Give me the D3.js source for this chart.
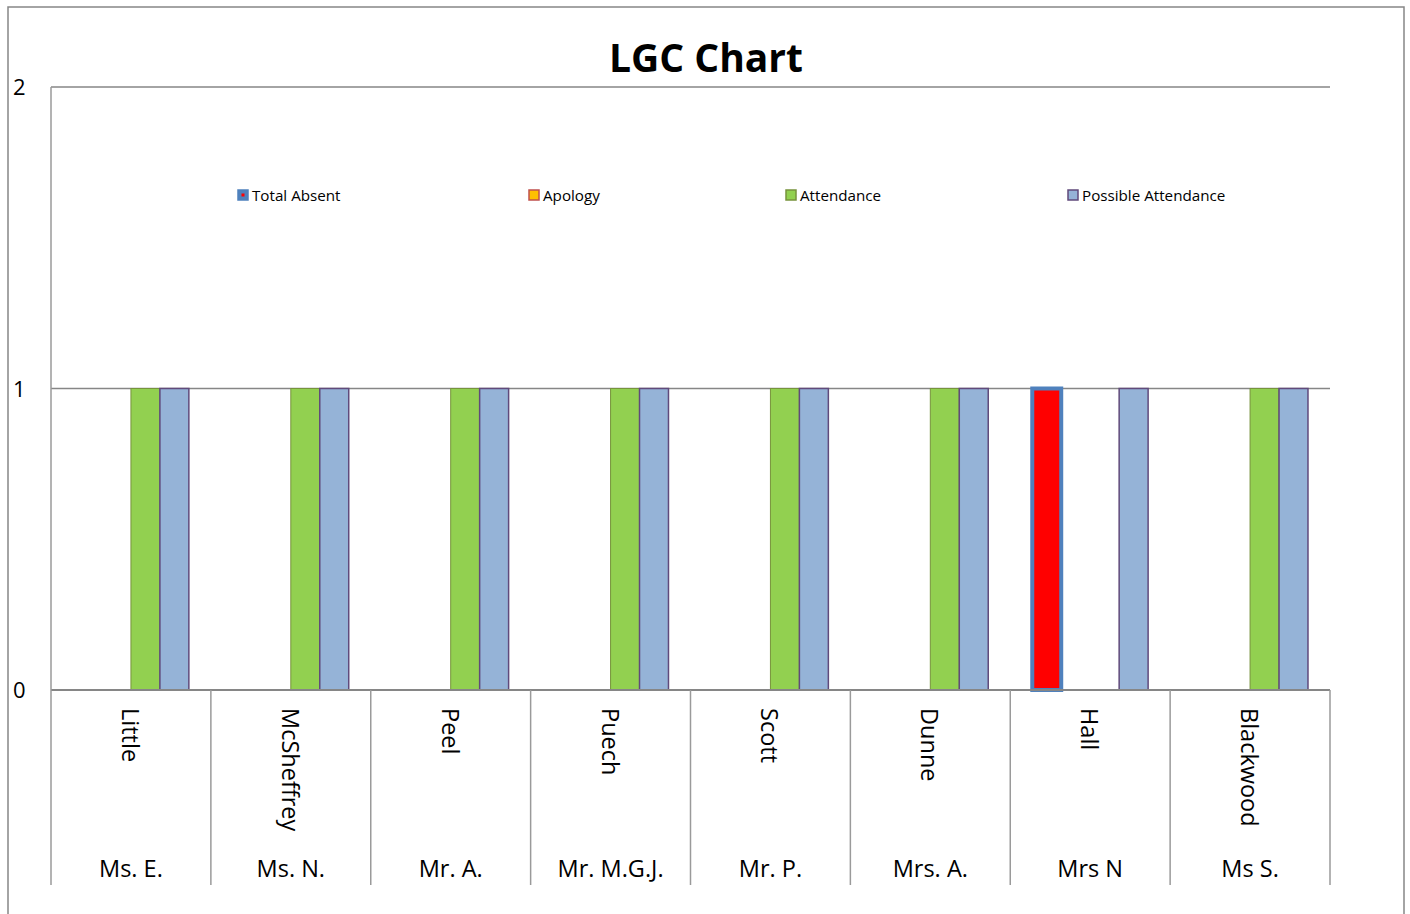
<!DOCTYPE html>
<html>
<head>
<meta charset="utf-8">
<script src="https://cdn.jsdelivr.net/npm/d3@7"></script>
<style>
  body { margin: 0; background: #fff; }
  svg { display: block; font-family: "Open Sans", "Noto Sans", sans-serif; }
</style>
</head>
<body>
<svg></svg>
<script>
const surnames = ['Little', 'McSheffrey', 'Peel', 'Puech', 'Scott', 'Dunne', 'Hall', 'Blackwood'];
const firstNames = ['Ms. E.', 'Ms. N.', 'Mr. A.', 'Mr. M.G.J.', 'Mr. P.', 'Mrs. A.', 'Mrs N', 'Ms S.'];
const seriesNames = ['Total Absent', 'Apology', 'Attendance', 'Possible Attendance'];
const totalAbsent = [0, 0, 0, 0, 0, 0, 1, 0];
const apology = [0, 0, 0, 0, 0, 0, 0, 0];
const attendance = [1, 1, 1, 1, 1, 1, 0, 1];
const possibleAttendance = [1, 1, 1, 1, 1, 1, 1, 1];
const yTicks = [0, 1, 2];

const fills = ['#FF0000', '#FFC000', '#92D050', '#95B3D7'];
const strokes = ['#4F81BD', '#C0504D', '#77933C', '#604A7B'];
const strokeWidths = [4, 1.5, 1, 1.5];
const legendX = [237, 528, 785, 1067];

const values = [totalAbsent, apology, attendance, possibleAttendance];

const svg = d3.select('svg')
    .attr('width', 1410)
    .attr('height', 914);

const plotLeft = 51, plotRight = 1330, plotTop = 87, zeroY = 690, axisBottom = 885;

// outer chart border
svg.append('rect')
    .attr('x', 8).attr('y', 7)
    .attr('width', 1396).attr('height', 950)
    .attr('fill', 'none')
    .attr('stroke', '#868686')
    .attr('stroke-width', 1.5);

svg.append('text')
    .attr('x', 706).attr('y', 72)
    .attr('text-anchor', 'middle')
    .attr('font-size', 39)
    .attr('font-weight', 'bold')
    .text('LGC Chart');

const y = d3.scaleLinear().domain([0, 2]).range([zeroY, plotTop]);
const x0 = d3.scaleBand().domain(d3.range(surnames.length)).range([plotLeft, plotRight]);
const x1 = d3.scaleBand().domain(d3.range(seriesNames.length))
    .range([0, x0.bandwidth()]).paddingOuter(0.76).paddingInner(0);

// gridlines
svg.append('g')
    .selectAll('line')
    .data(yTicks.filter(d => d > 0))
    .join('line')
    .attr('x1', plotLeft).attr('x2', plotRight)
    .attr('y1', d => y(d)).attr('y2', d => y(d))
    .attr('stroke', '#868686')
    .attr('stroke-width', 1.5);

// y labels
svg.append('g')
    .selectAll('text')
    .data(yTicks)
    .join('text')
    .attr('x', 13)
    .attr('y', d => y(d) + 8)
    .attr('font-size', 22)
    .text(d => d);

// bars
const groups = svg.append('g')
    .selectAll('g')
    .data(d3.range(surnames.length))
    .join('g')
    .attr('transform', i => `translate(${x0(i)},0)`);

groups.selectAll('rect')
    .data(i => values.map((v, s) => ({ s: s, v: v[i] })).filter(d => d.v > 0))
    .join('rect')
    .attr('x', d => x1(d.s))
    .attr('y', d => y(d.v))
    .attr('width', x1.bandwidth())
    .attr('height', d => y(0) - y(d.v))
    .attr('fill', d => fills[d.s])
    .attr('stroke', d => strokes[d.s])
    .attr('stroke-width', d => strokeWidths[d.s]);

// category axis
svg.append('line')
    .attr('x1', plotLeft).attr('x2', plotRight)
    .attr('y1', zeroY).attr('y2', zeroY)
    .attr('stroke', '#868686').attr('stroke-width', 2);

svg.append('g')
    .selectAll('line')
    .data(d3.range(surnames.length + 1))
    .join('line')
    .attr('x1', i => i < surnames.length ? x0(i) : plotRight)
    .attr('x2', i => i < surnames.length ? x0(i) : plotRight)
    .attr('y1', i => i === 0 ? plotTop : zeroY)
    .attr('y2', axisBottom)
    .attr('stroke', '#9a9a9a')
    .attr('stroke-width', 1.5);

svg.append('g')
    .selectAll('text')
    .data(surnames)
    .join('text')
    .attr('transform', (d, i) => `translate(${x0(i) + x0.bandwidth() / 2 - 9},708) rotate(90)`)
    .attr('font-size', 23.5)
    .text(d => d);

svg.append('g')
    .selectAll('text')
    .data(firstNames)
    .join('text')
    .attr('x', (d, i) => x0(i) + x0.bandwidth() / 2)
    .attr('y', 877)
    .attr('text-anchor', 'middle')
    .attr('font-size', 23.5)
    .text(d => d);

// legend
const legend = svg.append('g')
    .selectAll('g')
    .data(seriesNames)
    .join('g')
    .attr('transform', (d, i) => `translate(${legendX[i]},195)`);

legend.append('rect')
    .attr('x', 1).attr('y', -5)
    .attr('width', 10).attr('height', 10)
    .attr('fill', (d, i) => i === 0 ? '#4F81BD' : fills[i])
    .attr('stroke', (d, i) => strokes[i])
    .attr('stroke-width', 1.5);

legend.filter((d, i) => i === 0).append('rect')
    .attr('x', 4.5).attr('y', -1.5)
    .attr('width', 3).attr('height', 3)
    .attr('fill', '#FF0000');

legend.append('text')
    .attr('x', 15).attr('y', 5.5)
    .attr('font-size', 15.2)
    .text(d => d);
</script>
</body>
</html>
